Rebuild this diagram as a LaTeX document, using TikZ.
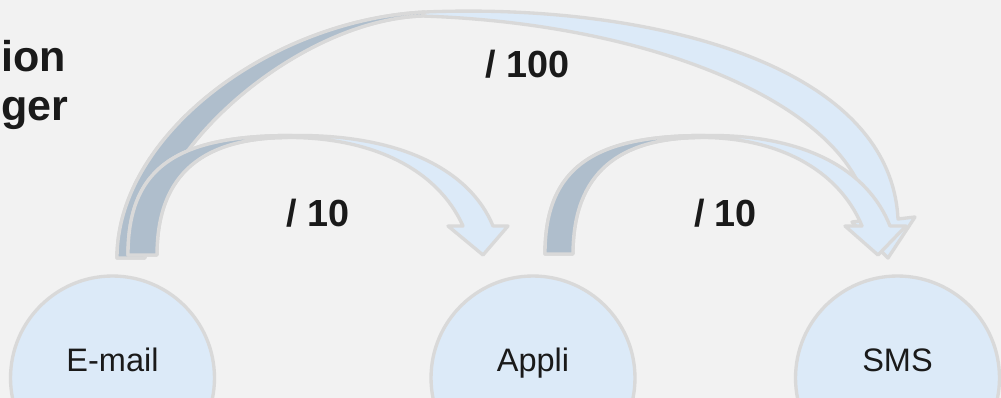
\documentclass[tikz,border=0pt]{standalone}
\usepackage{fontspec}
\setmainfont{Liberation Sans}
\definecolor{bggray}{HTML}{F2F2F2}
\definecolor{edgegray}{HTML}{D9D9D9}
\definecolor{paleblue}{HTML}{DCEAF8}
\definecolor{steelblue}{HTML}{AFBECC}
\definecolor{inkgray}{HTML}{1A1A1A}
\tikzset{
	bubble/.style={circle,draw=edgegray,fill=paleblue,line width=1.9pt,minimum size=4.08cm,inner sep=0},
	bubbletext/.style={anchor=base,inner sep=0,text=inkgray,font=\fontsize{18.5}{22}\selectfont},
	ratio/.style={anchor=base,inner sep=0,text=inkgray,font=\bfseries\fontsize{21.5}{26}\selectfont},
	heading/.style={anchor=base west,inner sep=0,text=inkgray,font=\bfseries\fontsize{24.5}{28}\selectfont},
	rim/.style={draw=edgegray,line width=1.9pt,line join=round},
}
\begin{document}
\begin{tikzpicture}[x=0.02cm,y=-0.02cm]
		\useasboundingbox (0,0) rectangle (1001,398);
		\clip (0,0) rectangle (1001,398);
		\fill [bggray] (0,0) rectangle (1001,398);
		\node [heading] at (1,72) (ion) {ion};
		\node [heading] at (1,121) (ger) {ger};
		\foreach \x/\n/\t in {112.5/email/E-mail, 533/appli/Appli, 897.5/sms/SMS}{
			\node [bubble] at (\x,378) (\n) {};
			\node [bubbletext] at (\x,371.5) (\n t) {\t};
		}
		\filldraw [rim,fill=paleblue] (117,258) .. controls (117,135) and (270,20) .. (425,12) .. controls (640,3) and (890,60) .. (898,219) -- (915,217) -- (888,258) -- (852,222) -- (869,220) .. controls (860,112) and (665,24) .. (422,16) .. controls (300,20) and (145,150) .. (145,258) -- cycle;
		\filldraw [rim,fill=steelblue] (117,258) .. controls (117,135) and (270,20) .. (425,12) -- (422,16) .. controls (300,20) and (145,150) .. (145,258) -- cycle;
		\filldraw [rim,fill=paleblue] (128,255) .. controls (128,165) and (180,135.5) .. (292,135.5) .. controls (400,134) and (470,170) .. (493,226) -- (508,226) -- (483,255) -- (448,226) -- (463,226) .. controls (437,168) and (370,137) .. (287,137.5) .. controls (205,138) and (157,172) .. (157,255) -- cycle;
		\filldraw [rim,fill=steelblue] (128,255) .. controls (128,165) and (180,135.5) .. (292,135.5) -- (287,137.5) .. controls (205,138) and (157,172) .. (157,255) -- cycle;
		\filldraw [rim,fill=paleblue] (545,254) .. controls (545,165) and (597,135.5) .. (705,135.5) .. controls (805,134) and (868,170) .. (890,226) -- (906,226) -- (878,255) -- (845,226) -- (862,226) .. controls (838,168) and (775,137) .. (700,137.5) .. controls (620,138) and (573,172) .. (573,254) -- cycle;
		\filldraw [rim,fill=steelblue] (545,254) .. controls (545,165) and (597,135.5) .. (705,135.5) -- (700,137.5) .. controls (620,138) and (573,172) .. (573,254) -- cycle;
		\node [ratio] at (527.5,78) (hundred) {/ 100};
		\node [ratio] at (318.5,227) (tenleft) {/ 10};
		\node [ratio] at (725.5,227) (tenright) {/ 10};
	\end{tikzpicture}
\end{document}
